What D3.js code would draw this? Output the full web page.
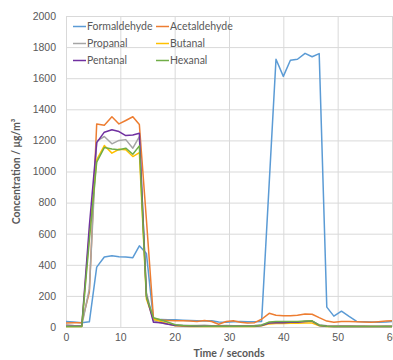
<!DOCTYPE html>
<html>
<head>
<meta charset="utf-8">
<script src="https://cdn.jsdelivr.net/npm/d3@7"></script>
<style>
  body { margin: 0; background: #fff; }
  svg { display: block; font-family: Lato, "Open Sans", sans-serif; }
</style>
</head>
<body>
<div id="chart"></div>
<script>
var times = [0, 1.4, 2.9, 4.3, 5.65, 7.05, 8.45, 9.75, 11.0, 12.3, 13.5, 14.8, 16.1, 17.5, 18.8, 20.1,
  21.5, 22.8, 24.1, 25.5, 26.8, 28.1, 29.5, 30.8, 32.1, 33.4, 34.7, 36.0, 37.4, 38.65, 40.0, 41.3,
  42.6, 44.0, 45.3, 46.6, 48.0, 49.3, 50.7, 52.1, 53.5, 54.8, 56.2, 57.5, 58.9, 60.0];

var formaldehyde = [35, 32, 28, 33, 385, 450, 458, 452, 450, 446, 522, 472, 45, 48, 47, 46,
  44, 42, 40, 38, 40, 32, 30, 34, 36, 34, 34, 36, 925, 1722, 1612, 1715,
  1722, 1760, 1738, 1758, 128, 70, 102, 68, 36, 34, 32, 30, 32, 36];
var acetaldehyde = [25, 27, 28, 225, 1306, 1298, 1352, 1306, 1328, 1352, 1302, 690, 55, 45, 42, 40,
  40, 38, 35, 42, 35, 18, 35, 40, 30, 25, 28, 50, 88, 76, 72, 72,
  75, 84, 82, 60, 38, 30, 35, 35, 33, 32, 30, 34, 38, 40];
var propanal = [15, 10, 8, 245, 1195, 1225, 1178, 1200, 1205, 1150, 1225, 220, 40, 25, 18, 15,
  12, 10, 10, 12, 8, 8, 10, 8, 8, 8, 10, 15, 28, 30, 30, 30,
  32, 35, 35, 15, 8, 6, 8, 8, 6, 6, 5, 5, 6, 6];
var butanal = [3, 3, 3, 600, 1075, 1167, 1118, 1143, 1140, 1096, 1122, 180, 50, 35, 20, 8,
  5, 3, 3, 3, 3, 3, 3, 3, 3, 3, 3, 8, 20, 22, 22, 24,
  24, 25, 25, 8, 3, 3, 3, 3, 3, 3, 3, 3, 3, 3];
var pentanal = [5, 5, 5, 650, 1186, 1253, 1268, 1257, 1231, 1235, 1246, 200, 30, 28, 18, 10,
  8, 6, 5, 5, 5, 5, 5, 5, 5, 5, 5, 10, 25, 28, 28, 30,
  30, 35, 38, 10, 5, 4, 4, 4, 4, 4, 4, 4, 4, 4];
var hexanal = [3, 3, 3, 560, 1060, 1154, 1145, 1140, 1150, 1111, 1165, 195, 60, 45, 30, 15,
  10, 8, 6, 5, 5, 5, 5, 5, 5, 5, 5, 12, 32, 35, 35, 35,
  36, 38, 40, 12, 5, 4, 4, 4, 4, 4, 4, 4, 4, 4];

var seriesNames = ["Formaldehyde", "Acetaldehyde", "Propanal", "Butanal", "Pentanal", "Hexanal"];
var seriesValues = [formaldehyde, acetaldehyde, propanal, butanal, pentanal, hexanal];
var seriesColors = ["#5B9BD5", "#ED7D31", "#A5A5A5", "#FFC000", "#7030A0", "#70AD47"];

var xTicks = [0, 10, 20, 30, 40, 50, 60];
var yTicks = [0, 200, 400, 600, 800, 1000, 1200, 1400, 1600, 1800, 2000];

var width = 393, height = 360;
var margin = {top: 16, right: 1, bottom: 33, left: 66};

var svg = d3.select("#chart").append("svg")
    .attr("width", width)
    .attr("height", height);

var x = d3.scaleLinear().domain([0, 60]).range([margin.left, width - margin.right]);
var y = d3.scaleLinear().domain([0, 2000]).range([height - margin.bottom, margin.top]);

svg.append("g")
    .attr("transform", `translate(${margin.left},0)`)
    .call(d3.axisLeft(y).tickValues(yTicks).tickFormat(d3.format("d"))
        .tickSize(-(width - margin.left - margin.right)).tickPadding(10));

svg.append("g")
    .attr("transform", `translate(0,${height - margin.bottom})`)
    .call(d3.axisBottom(x).tickValues(xTicks).tickFormat(d3.format("d"))
        .tickSize(-(height - margin.top - margin.bottom)).tickPadding(7));

svg.selectAll(".domain").remove();
svg.selectAll(".tick line").attr("stroke", "#d9d9d9").attr("stroke-width", 1);
svg.selectAll(".tick text")
    .attr("fill", "#595959")
    .style("font-size", "10.5px");

var line = d3.line()
    .x((d, i) => x(times[i]))
    .y(d => y(d));

svg.append("g").selectAll("path")
    .data(seriesValues)
    .enter().append("path")
    .attr("d", line)
    .attr("fill", "none")
    .attr("stroke", (d, i) => seriesColors[i])
    .attr("stroke-width", 1.5)
    .attr("stroke-linejoin", "round");

var legend = svg.append("g").selectAll("g")
    .data(seriesNames)
    .enter().append("g")
    .attr("transform", (d, i) => `translate(${i % 2 ? 156 : 73},${26.5 + Math.floor(i / 2) * 17})`);

legend.append("line")
    .attr("x1", 0).attr("x2", 13)
    .attr("stroke", (d, i) => seriesColors[i])
    .attr("stroke-width", 1.5);

legend.append("text")
    .attr("x", 14)
    .attr("dy", "0.35em")
    .attr("fill", "#595959")
    .style("font-size", "10.5px")
    .text(d => d);

svg.append("text")
    .attr("transform", `translate(20,${(margin.top + height - margin.bottom) / 2}) rotate(-90)`)
    .attr("text-anchor", "middle")
    .attr("fill", "#595959")
    .style("font-size", "10.5px")
    .style("font-weight", "bold")
    .text("Concentration / μg/m³");

svg.append("text")
    .attr("x", (margin.left + width - margin.right) / 2)
    .attr("y", 357)
    .attr("text-anchor", "middle")
    .attr("fill", "#595959")
    .style("font-size", "10.5px")
    .style("font-weight", "bold")
    .text("Time / seconds");
</script>
</body>
</html>
